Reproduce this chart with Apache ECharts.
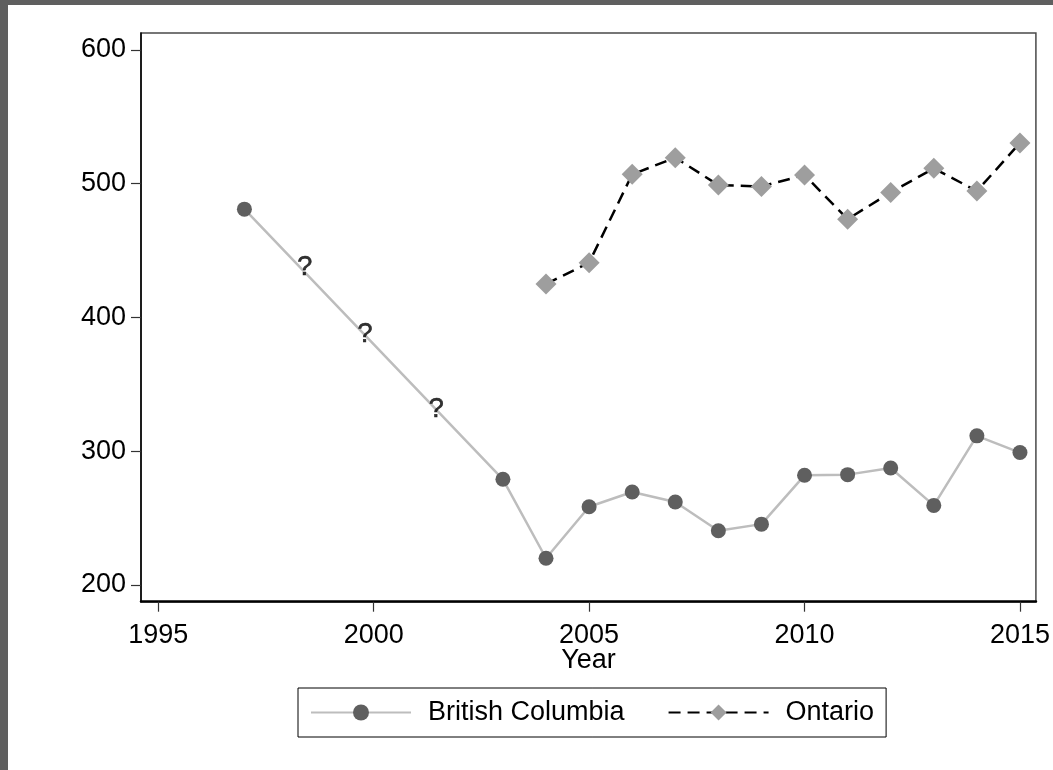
<!DOCTYPE html>
<html>
<head>
<meta charset="utf-8">
<script src="https://cdn.jsdelivr.net/npm/echarts@6/dist/echarts.min.js"></script>
<style>
  html, body { margin: 0; padding: 0; background: #ffffff; }
  #chart { width: 1053px; height: 770px; }
</style>
</head>
<body>
<div id="chart"></div>
<script>
// Yearly counts for the two provinces
const bcYears = [1997, 2003, 2004, 2005, 2006, 2007, 2008, 2009, 2010, 2011, 2012, 2013, 2014, 2015];
const bcValues = [481, 279, 220, 258.5, 269.5, 262, 240.5, 245.5, 282, 282.5, 287.5, 259.5, 311.5, 299];

const onYears = [2004, 2005, 2006, 2007, 2008, 2009, 2010, 2011, 2012, 2013, 2014, 2015];
const onValues = [425, 441, 507, 519.5, 499, 498, 506.5, 473.5, 493.5, 511.5, 494.5, 530.5];

// Unknown years along the British Columbia line, marked with "?"
const unknownYears = [1998.4, 1999.8, 2001.45];
const unknownValues = [437.5, 387.5, 331.5];

const xTicks = [1995, 2000, 2005, 2010, 2015];
const yTicks = [200, 300, 400, 500, 600];

const FONT = '"Liberation Sans", Arial, Helvetica, sans-serif';

const pairs = (xs, ys) => xs.map((x, i) => [x, ys[i]]);

const chart = echarts.init(document.getElementById('chart'), null, { renderer: 'canvas' });

chart.setOption({
  animation: false,
  backgroundColor: '#ffffff',
  textStyle: { fontFamily: FONT },
  graphic: [
    { type: 'rect', left: 0, top: 0, shape: { width: 1053, height: 5 }, style: { fill: '#5f5f5f' }, z: 100 },
    { type: 'rect', left: 0, top: 0, shape: { width: 8, height: 770 }, style: { fill: '#5f5f5f' }, z: 100 }
  ],
  grid: {
    left: 141, top: 33, right: 15.3, bottom: 168.3,
    show: true, borderColor: '#4a4a4a', borderWidth: 1.5, backgroundColor: 'transparent'
  },
  legend: {
    data: ['British Columbia', 'Ontario'],
    left: 298, top: 688,
    orient: 'horizontal',
    padding: [11, 12, 11, 12],
    itemWidth: 100, itemHeight: 20, itemGap: 43,
    borderColor: '#000000', borderWidth: 1,
    textStyle: { fontSize: 27, color: '#000000', fontFamily: FONT, padding: [0, 0, 0, 12] }
  },
  xAxis: {
    type: 'value',
    min: 1994.6, max: 2015.37,
    name: 'Year', nameLocation: 'middle', nameGap: 45, nameMoveOverlap: false,
    nameTextStyle: { fontSize: 27, color: '#000000', fontFamily: FONT },
    axisLine: { show: true, onZero: false, lineStyle: { color: '#000000', width: 2.5 } },
    axisTick: { show: true, inside: false, length: 10, customValues: xTicks, lineStyle: { color: '#333333', width: 1.2 } },
    axisLabel: { fontSize: 27, color: '#000000', margin: 20, customValues: xTicks, formatter: v => String(v) },
    splitLine: { show: false }
  },
  yAxis: {
    type: 'value',
    min: 187.5, max: 612.7,
    axisLine: { show: true, onZero: false, lineStyle: { color: '#000000', width: 1.5 } },
    axisTick: { show: true, inside: false, length: 10, customValues: yTicks, lineStyle: { color: '#333333', width: 1.2 } },
    axisLabel: { fontSize: 27, color: '#000000', margin: 15, padding: [5, 0, 0, 0], customValues: yTicks, formatter: v => String(v) },
    splitLine: { show: false }
  },
  series: [
    {
      name: 'British Columbia',
      type: 'line',
      data: pairs(bcYears, bcValues),
      symbol: 'circle', symbolSize: 15, showSymbol: true,
      lineStyle: { color: '#bdbdbd', width: 2.5 },
      itemStyle: { color: '#5f5f5f', borderWidth: 0 },
      z: 3
    },
    {
      name: 'Ontario',
      type: 'line',
      data: pairs(onYears, onValues),
      symbol: 'diamond', symbolSize: 21, showSymbol: true,
      lineStyle: { color: '#000000', width: 2.5, type: [12, 7] },
      itemStyle: { color: '#9e9e9e', borderWidth: 0 },
      z: 3
    },
    {
      name: 'unknown',
      type: 'scatter',
      data: pairs(unknownYears, unknownValues),
      symbolSize: 0,
      itemStyle: { color: '#000000' },
      label: {
        show: true, position: 'inside', formatter: '?', fontSize: 27,
        color: '#000000', fontFamily: FONT, textBorderWidth: 0.6, textBorderColor: '#000000'
      },
      silent: true,
      z: 4
    }
  ]
});
</script>
</body>
</html>
